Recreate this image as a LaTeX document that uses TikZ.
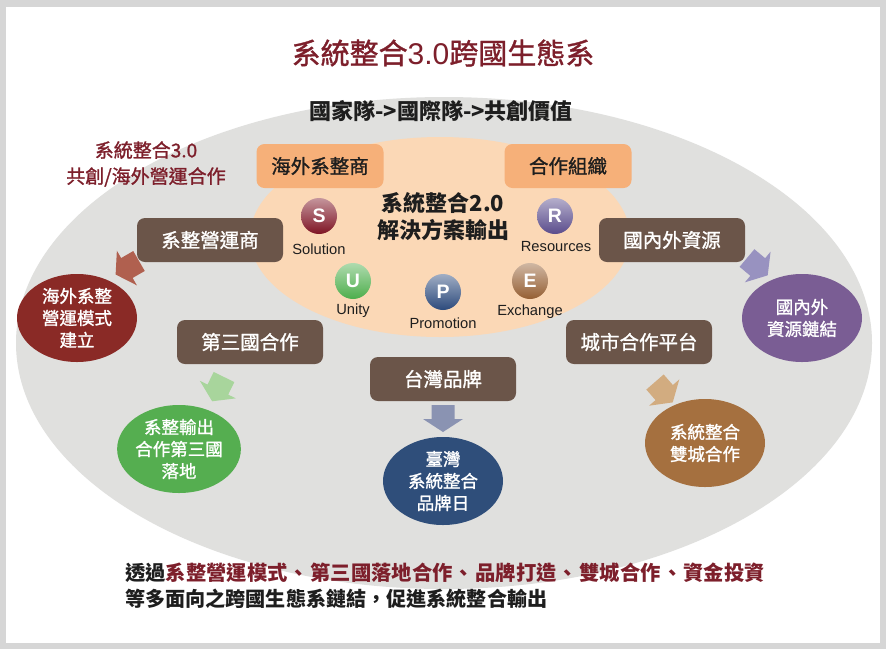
\documentclass[tikz,border=0pt]{standalone}
\usepackage{fontspec}
\setmainfont{Liberation Sans}
\newfontfamily\cjk{Noto Sans CJK TC}
\newfontfamily\cjkm{Noto Sans CJK TC}[FakeBold=1.2]
\usetikzlibrary{shapes.geometric}
\definecolor{framegray}{HTML}{D6D6D6}
\definecolor{ecogray}{HTML}{E0E0DE}
\definecolor{peach}{HTML}{FBD8B6}
\definecolor{orangebox}{HTML}{F6B079}
\definecolor{brownbox}{HTML}{6B5549}
\definecolor{titlered}{HTML}{7D1F2B}
\definecolor{textdark}{HTML}{1E1E1E}
\definecolor{bubred}{HTML}{8A2A26}
\definecolor{bubpurple}{HTML}{7A5D94}
\definecolor{bubgreen}{HTML}{55AE50}
\definecolor{bubnavy}{HTML}{2F4E7A}
\definecolor{bubbrown}{HTML}{A5703F}
\definecolor{arrred}{HTML}{B0604F}
\definecolor{arrpurple}{HTML}{9892C0}
\definecolor{arrgreen}{HTML}{A8D59C}
\definecolor{arrtan}{HTML}{D2AC80}
\definecolor{arrblue}{HTML}{8A93B2}
\definecolor{ballS}{HTML}{7E1424}
\definecolor{ballR}{HTML}{5A4C8C}
\definecolor{ballU}{HTML}{4DAE4C}
\definecolor{ballP}{HTML}{2C4A7C}
\definecolor{ballE}{HTML}{955F33}
\newcommand{\dun}{\hspace{1.3pt}、\hspace{1.3pt}}
\tikzset{
  obox/.style={rounded corners=8pt, fill=orangebox, minimum width=127pt, minimum height=44pt, inner sep=0pt, text=textdark, font=\cjkm\fontsize{19.5}{23}\selectfont},
  bbox/.style={rounded corners=8pt, fill=brownbox, minimum width=146pt, minimum height=44pt, inner sep=0pt, text=white, font=\cjkm\fontsize{19.5}{23}\selectfont},
  bubble/.style={ellipse, fill=#1, minimum width=120pt, minimum height=88pt, inner sep=0pt, align=center, text=white, font=\cjkm\fontsize{17.5}{22}\selectfont},
  ballnode/.style={circle, minimum size=36pt, inner sep=0pt, text=white, top color=#1!45!white, bottom color=#1, font=\bfseries\fontsize{19.5}{20}\selectfont},
  balllabel/.style={inner sep=0pt, text=textdark, font=\fontsize{14.7}{16}\selectfont},
  barrow/.pic={\fill[#1] (0,-11.5) -- (14,-11.5) -- (14,-20) -- (27,0) -- (14,20) -- (14,11.5) -- (0,11.5) -- cycle;}
}
\begin{document}
\begin{tikzpicture}[x=1pt,y=-1pt]
\useasboundingbox (0,0) rectangle (886,649);
\fill[framegray] (0,0) rectangle (886,649);
\fill[white] (6,7) rectangle (880,643);
% background ellipses
\node[ellipse, fill=ecogray, minimum width=856pt, minimum height=492pt, inner sep=0pt] (eco) at (444,343) {};
\node[ellipse, fill=peach, minimum width=380pt, minimum height=200pt, inner sep=0pt] (core) at (440,237) {};
% title and subtitle
\node[inner sep=0pt, text=titlered, font=\cjkm\fontsize{29}{32}\selectfont] (title) at (443,53) {系統整合{\rmfamily\fontsize{30}{32}\selectfont 3.0}跨國生態系};
\node[inner sep=0pt, text=textdark, font=\cjk\bfseries\fontsize{22}{24}\selectfont] (sub) at (441,111) {國家隊->國際隊->共創價值};
\node[inner sep=0pt, align=center, text=titlered, font=\cjkm\fontsize{19}{26}\selectfont] (note) at (146,164) {系統整合3.0\\共創/海外營運合作};
% center text
\node[inner sep=0pt, align=center, text=textdark, font=\cjk\bfseries\fontsize{22}{27}\selectfont] (core2) at (443,217) {系統整合2.0\\解決方案輸出};
% boxes
\node[obox] (hwxz) at (320,166) {海外系整商};
\node[obox] (hzzz) at (568,166) {合作組織};
\node[bbox] (xzyy) at (210,240) {系整營運商};
\node[bbox] (gnwz) at (672,240) {國內外資源};
\node[bbox] (dsgh) at (250,342) {第三國合作};
\node[bbox] (tw) at (443,379) {台灣品牌};
\node[bbox] (cshz) at (639,342) {城市合作平台};
% bubbles
\node[bubble=bubred] (b1) at (77,318) {海外系整\\營運模式\\建立};
\node[bubble=bubpurple] (b2) at (802,318) {國內外\\資源鏈結};
\node[bubble=bubgreen] (b3) at (179,449) {系整輸出\\合作第三國\\落地};
\node[bubble=bubnavy] (b4) at (443,481) {臺灣\\系統整合\\品牌日};
\node[bubble=bubbrown] (b5) at (705,443) {系統整合\\雙城合作};
% block arrows
\pic[rotate=-150] at (139,261) {barrow=arrred};
\pic[rotate=-40] at (747,258) {barrow=arrpurple};
\pic[rotate=-116] at (224,377) {barrow=arrgreen};
\pic[rotate=-49] at (655,382) {barrow=arrtan};
\pic[rotate=-90] at (443,405) {barrow=arrblue};
% SUPRE balls
\node[ballnode=ballS] (S) at (319,216) {S};
\node[ballnode=ballR] (R) at (555,216) {R};
\node[ballnode=ballU] (U) at (353,281) {U};
\node[ballnode=ballP] (P) at (443,292) {P};
\node[ballnode=ballE] (E) at (530,281) {E};
\node[balllabel] (Sl) at (319,249) {Solution};
\node[balllabel] (Rl) at (556,247) {Resources};
\node[balllabel] (Ul) at (353,311) {Unity};
\node[balllabel] (Pl) at (443,323) {Promotion};
\node[balllabel] (El) at (530,312) {Exchange};
% bottom text
\node[anchor=west, inner sep=0pt, text=textdark, font=\cjk\bfseries\fontsize{20.3}{24}\selectfont] (bt1) at (125,573) {透過\textcolor{titlered}{系整營運模式\dun 第三國落地合作\dun 品牌打造\dun 雙城合作\dun 資金投資}};
\node[anchor=west, inner sep=0pt, text=textdark, font=\cjk\bfseries\fontsize{20.1}{24}\selectfont] (bt2) at (125,599) {等多面向之跨國生態系鏈結，促進系統整合輸出};
\end{tikzpicture}
\end{document}
